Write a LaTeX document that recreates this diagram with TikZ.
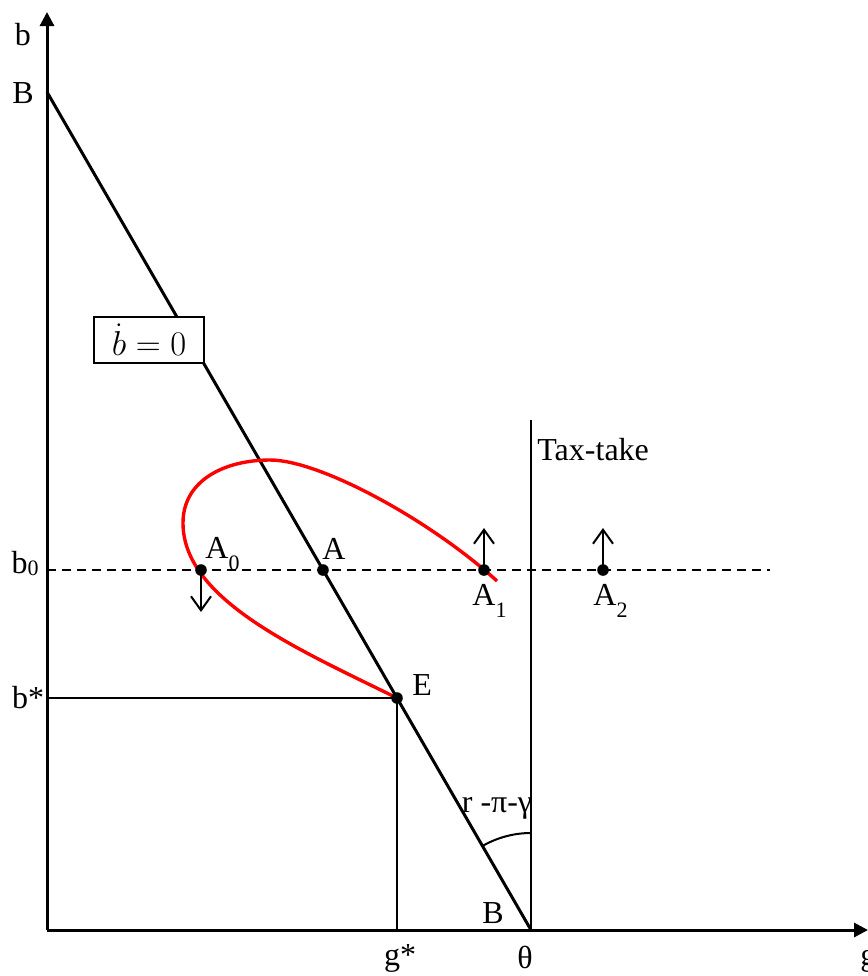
\documentclass[tikz,border=0pt]{standalone}
\usepackage{fontspec}
\setmainfont{Liberation Serif}
\usetikzlibrary{arrows.meta}
\newcommand\lowsub[2]{\raisebox{#1}{\fontsize{11}{11}\selectfont #2}}
\begin{document}
\begin{tikzpicture}[x=0.5pt,y=-0.5pt,
  lbl/.style={font=\fontsize{16}{16}\selectfont, inner sep=0pt},
  pt/.style={circle, fill=black, inner sep=0pt, minimum size=5.8pt},
  axis/.style={line width=1.5pt, -{Triangle[length=7pt,width=7pt]}},
  thinline/.style={line width=1pt},
  mainline/.style={line width=1.5pt},
  vec/.style={line width=1pt, -{Straight Barb[length=7pt,width=10pt]}},
  path/.style={red, line width=1.7pt}]
\useasboundingbox (0,0) rectangle (868,976);
% coordinates
\coordinate (O) at (47,930);
\coordinate (Ytop) at (47,12);
\coordinate (Xend) at (868,930);
\coordinate (Btop) at (47,92);
\coordinate (Theta) at (531,930);
\coordinate (T) at (531,420);
\coordinate (D1) at (47,570);
\coordinate (D2) at (770,570);
\coordinate (Bs) at (47,698);
\coordinate (Gs) at (397,930);
\coordinate (L) at (183,523);
\coordinate (Top) at (270,460);
\coordinate (End) at (497,581);
\coordinate (Ec) at (397,698);
% axes
\draw[axis] (O) -- (Ytop);
\draw[axis] (O) -- (Xend);
% lines
\draw[mainline] (Btop) -- (Theta);
\draw[thinline] (T) -- (Theta);
\draw[line width=1pt, dash pattern=on 4.5pt off 3pt] (D1) -- (D2);
\draw[thinline] (Bs) -- (Ec) -- (Gs);
% red trajectory
\draw[path] (Ec) .. controls (300,650) and (183,600) .. (L)
  .. controls (183,480) and (225,460) .. (Top)
  .. controls (320,460) and (430,520) .. (End);
% points
\node[pt] (A0) at (201,570) {};
\node[pt] (A) at (323,570) {};
\node[pt] (A1) at (484,570) {};
\node[pt] (A2) at (603,570) {};
\node[pt] (E) at (Ec) {};
% arrows
\coordinate (A0d) at (201,612);
\coordinate (A1u) at (484,528);
\coordinate (A2u) at (603,528);
\draw[vec] (A0.center) -- (A0d);
\draw[vec] (A1.center) -- (A1u);
\draw[vec] (A2.center) -- (A2u);
% angle arc
\draw[line width=1pt] (Theta) ++(0,-97) arc[start angle=270, end angle=240, radius=97];
% box
\node[draw, fill=white, line width=0.6pt, minimum width=55pt, minimum height=23pt, inner sep=0pt, font=\fontsize{17}{17}\selectfont] (bdot) at (149,340) {$\dot b = 0$};
% labels
\node[lbl, anchor=base] (lb) at (23,45) {b};
\node[lbl, anchor=base] (lB) at (23,103) {B};
\node[lbl, anchor=base] (lb0) at (25,573) {b\lowsub{-1pt}{0}};
\node[lbl, anchor=base] (lbs) at (28,708) {b*};
\node[lbl, anchor=base west] (lA0) at (205,558) {A\lowsub{-6pt}{0}};
\node[lbl, anchor=base west] (lA) at (322,559) {A};
\node[lbl, anchor=base west] (lA1) at (472,605) {A\lowsub{-6pt}{1}};
\node[lbl, anchor=base west] (lA2) at (593,605) {A\lowsub{-6pt}{2}};
\node[lbl, anchor=base west] (lE) at (412,695) {E};
\node[lbl, anchor=base west] (lBb) at (482,923) {B};
\node[lbl, anchor=base] (lth) at (525,968) {θ};
\node[lbl, anchor=base] (lgs) at (400,965) {g*};
\node[lbl, anchor=base west] (lg) at (860,965) {g};
\node[lbl, anchor=base west] (ltt) at (537,460) {Tax-take};
\node[lbl] (lang) at (497,808) {r -π-γ};
\end{tikzpicture}
\end{document}
